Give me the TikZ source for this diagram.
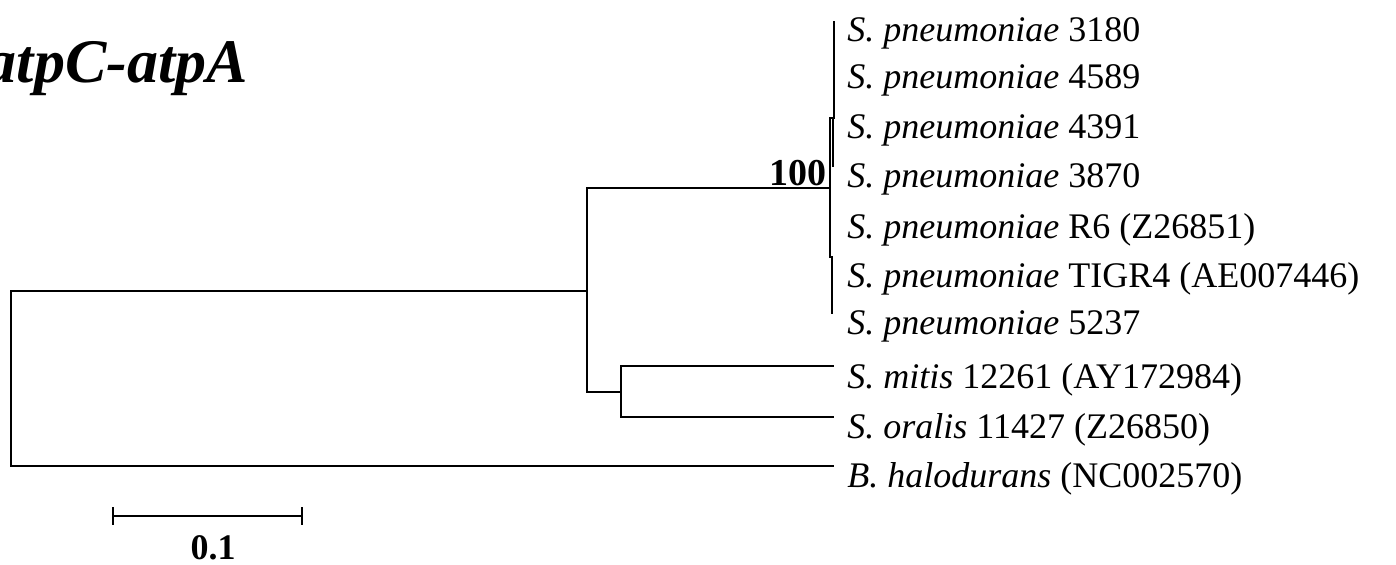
\documentclass[tikz,border=0pt]{standalone}
\usepackage{fontspec}
\setmainfont{Liberation Serif}
\usetikzlibrary{positioning}
\tikzset{
    branch/.style={line width=1.4pt, line cap=rect},
    thinbranch/.style={line width=0.9pt},
    taxon/.style={anchor=base west, inner sep=0pt, font=\fontsize{18}{20}\selectfont},
    bootval/.style={anchor=base east, inner sep=0pt, font=\fontsize{19}{20}\selectfont\bfseries},
    genelabel/.style={anchor=base east, inner sep=0pt, font=\fontsize{31}{34}\selectfont\bfseries\itshape}
}

\begin{document}
\begin{tikzpicture}[x=0.5pt, y=-0.5pt]
    \useasboundingbox (0,0) rectangle (1396,565);
    % inner nodes
    \coordinate (root) at (11,379);
    \coordinate (strep) at (587,291);
    \coordinate (pneu) at (830,188);
    \coordinate (mitor) at (621,392);
    \coordinate (pa) at (830,118);
    \coordinate (pb) at (830,257);
    % tips
    \coordinate (p1) at (834,21);
    \coordinate (p3) at (833,118);
    \coordinate (p4) at (833,167);
    \coordinate (p7) at (832,314);
    \coordinate (mitis) at (833,366);
    \coordinate (oralis) at (833,417);
    \coordinate (halo) at (833,466);

    \draw[branch] (strep) -| (root) |- (halo);
    \draw[branch] (pneu) -| (strep) |- (mitor);
    \draw[branch] (mitis) -| (mitor) |- (oralis);
    \draw[branch] (pa) -- (pb);
    \draw[thinbranch] (pa) -| (p1);
    \draw[thinbranch] (p3) -- (p4);
    \draw[thinbranch] (pb) -| (p7);

    \node[bootval] (boot) at (827,186) {100};

    \foreach \y/\strain [count=\i] in {42/3180, 89/4589, 139/4391, 188/3870,
            239/{R6 (Z26851)}, 288/{TIGR4 (AE007446)}, 335/5237}
        \node[taxon] (pneu\i) at (847,\y) {\textit{S. pneumoniae} \strain};
    \node[taxon] (mitislab) at (847,389) {\textit{S. mitis} 12261 (AY172984)};
    \node[taxon] (oralislab) at (847,439) {\textit{S. oralis} 11427 (Z26850)};
    \node[taxon] (halolab) at (847,488) {\textit{B. halodurans} (NC002570)};

    \node[genelabel] (gene) at (248,83) {atpC-atpA};

    % scale bar
    \coordinate (sbl) at (113,516);
    \coordinate (sbr) at (302,516);
    \draw[branch] (sbl) -- (sbr);
    \draw[branch] ([yshift=4pt]sbl) -- ([yshift=-4pt]sbl);
    \draw[branch] ([yshift=4pt]sbr) -- ([yshift=-4pt]sbr);
    \node[anchor=base, inner sep=0pt, font=\fontsize{18}{20}\selectfont\bfseries] (scale) at (213,560) {0.1};
\end{tikzpicture}
\end{document}
